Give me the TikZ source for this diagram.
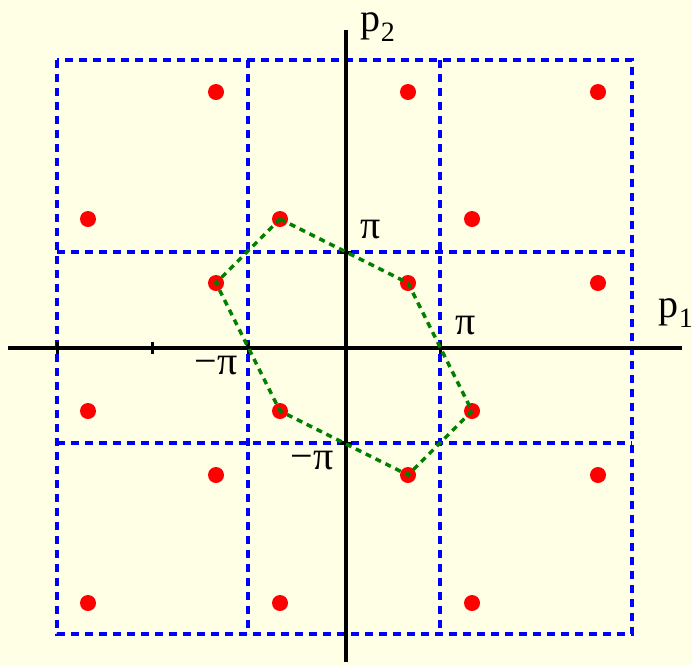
\documentclass[tikz,border=0pt]{standalone}
\usepackage{fontspec}
\setmainfont{Liberation Serif}
\begin{document}
\begin{tikzpicture}[x=1pt,y=-1pt,
  axis/.style={line width=3.4pt,black},
  grid/.style={line width=3.6pt,blue,dash pattern=on 8pt off 6pt},
  hexa/.style={line width=3.4pt,green!50!black,dash pattern=on 6pt off 5pt},
  dot/.style={circle,fill=red,inner sep=0pt,minimum size=16pt},
  lab/.style={font=\fontsize{40}{40}\selectfont,inner sep=0pt}]
\definecolor{bg}{RGB}{255,255,230}
\fill[bg] (0,0) rectangle (692,665);
\useasboundingbox (0,0) rectangle (692,665);
% grid
\draw[grid] (57,60) rectangle (632,634);
\draw[grid] (248,60) -- (248,634);
\draw[grid] (440,60) -- (440,634);
\draw[grid] (57,252) -- (632,252);
\draw[grid] (57,443) -- (632,443);
% axes
\coordinate (xl) at (8,348); \coordinate (xr) at (682,348);
\coordinate (yt) at (346,30); \coordinate (yb) at (346,662);
\draw[axis] (xl) -- (xr);
\draw[axis] (yt) -- (yb);
\foreach \x in {57,152,248,440}
  \draw[line width=3pt] (\x,342) -- (\x,354);
\foreach \y in {252,443}
  \draw[line width=3pt] (340,\y) -- (352,\y);
% dots
\foreach \n/\x/\y in {a/216/92,b/408/92,c/598/92,d/88/219,e/280/219,f/472/219,
  g/216/283,h/408/283,i/598/283,j/88/411,k/280/411,l/472/411,
  m/216/475,n/408/475,o/598/475,p/88/603,q/280/603,r/472/603}
  \node[dot] (\n) at (\x,\y) {};
% hexagon
\draw[hexa] (e.center) -- (h.center) -- (l.center) -- (n.center) -- (k.center) -- (g.center) -- cycle;
% labels
\node[lab] (lp2) at (378,27) {p\textsubscript{2}};
\node[lab] (lp1) at (676,313) {p\textsubscript{1}};
\node[lab] (lpiy) at (371,230) {π};
\node[lab] (lpix) at (466,326) {π};
\node[lab] (lmpx) at (216,366) {−π};
\node[lab] (lmpy) at (312,461) {−π};
\end{tikzpicture}
\end{document}
